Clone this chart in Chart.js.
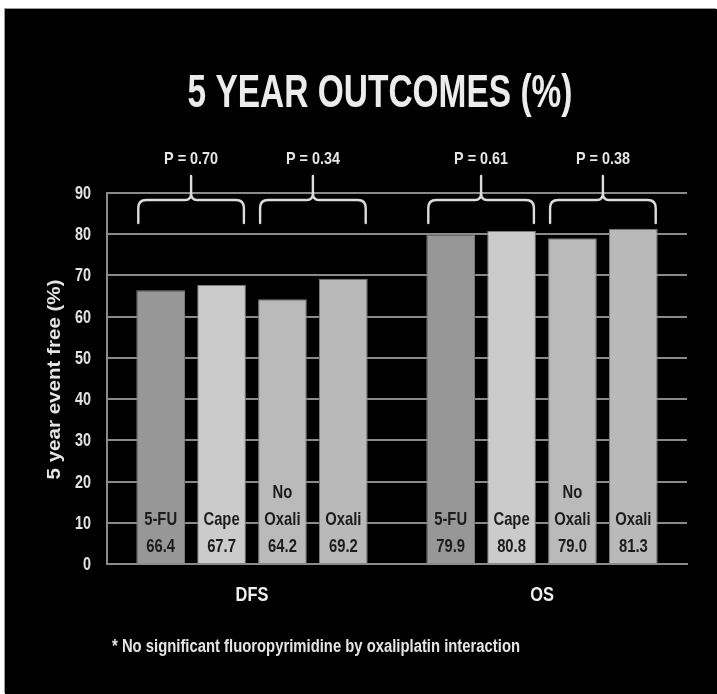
<!DOCTYPE html>
<html>
<head>
<meta charset="utf-8">
<script src="https://cdn.jsdelivr.net/npm/chart.js@4.4.1/dist/chart.umd.min.js"></script>
<style>
  html, body { margin: 0; padding: 0; background: #ffffff; }
  #frame {
    position: absolute; left: 5px; top: 9px; width: 712px; height: 685px;
    background: #000000; box-shadow: -1px -1px 0 #9a9a9a;
  }
  #chart { display: block; }
</style>
</head>
<body>
<div id="frame"><canvas id="chart" width="712" height="685"></canvas></div>
<script>
// Endpoints on the category axis
const categories = ['DFS', 'OS'];
// Treatment arms (one bar per arm in each endpoint)
const arms = ['5-FU', 'Cape', 'No Oxali', 'Oxali'];
// 5 year event-free percentages, per arm, ordered as categories
const fu5 = [66.4, 79.9];
const cape = [67.7, 80.8];
const noOxali = [64.2, 79.0];
const oxali = [69.2, 81.3];
// Comparisons: 5-FU vs Cape and No Oxali vs Oxali, per endpoint
const pValues = [['P = 0.70', 'P = 0.34'], ['P = 0.61', 'P = 0.38']];
// Value axis ticks
const yTicks = [0, 10, 20, 30, 40, 50, 60, 70, 80, 90];

const titleText = '5 YEAR OUTCOMES (%)';
const yTitleText = '5 year event free (%)';
const footnoteText = '* No significant fluoropyrimidine by oxaliplatin interaction';

const FONT = '"Liberation Sans", Arial, sans-serif';
const armColors = ['#979797', '#cbcbcb', '#bababa', '#b9b9b9'];
const gridColor = '#8a8a8a';

// Draw text condensed horizontally; width may be a target width or, when
// negative, a fixed squeeze factor given as its absolute value
function fitText(ctx, text, x, y, font, width, align) {
  ctx.save();
  ctx.font = font;
  const w = ctx.measureText(text).width;
  const s = width > 0 ? width / w : -width;
  ctx.translate(x, y);
  ctx.scale(s, 1);
  ctx.textAlign = align;
  ctx.textBaseline = 'middle';
  ctx.fillText(text, 0, 0);
  ctx.restore();
}

const annotations = {
  id: 'annotations',
  afterDatasetsDraw(chart) {
    const ctx = chart.ctx;
    const yScale = chart.scales.y;
    const xScale = chart.scales.x;
    ctx.save();

    // Value axis tick labels
    ctx.fillStyle = '#e2e2e2';
    yScale.ticks.forEach(t => {
      fitText(ctx, String(t.value), yScale.right - 16, yScale.getPixelForValue(t.value) + 1,
        'bold 18px ' + FONT, -0.8, 'right');
    });
    // Category labels
    ctx.fillStyle = '#efefef';
    categories.forEach((c, i) => {
      fitText(ctx, c, xScale.getPixelForValue(i), xScale.top + 31, 'bold 21px ' + FONT, -0.78, 'center');
    });

    // Value labels inside each bar
    ctx.fillStyle = '#1c1c1c';
    chart.data.datasets.forEach((ds, di) => {
      const meta = chart.getDatasetMeta(di);
      meta.data.forEach((bar, i) => {
        const lines = ds.label.split(' ').concat([ds.data[i].toFixed(1)]);
        const base = yScale.getPixelForValue(0);
        lines.reverse().forEach((t, k) => {
          fitText(ctx, t, bar.x, base - 17 - k * 27, 'bold 19px ' + FONT, -0.78, 'center');
        });
      });
    });

    // Braces and P values over each compared pair
    ctx.strokeStyle = '#dcdcdc';
    ctx.fillStyle = '#e6e6e6';
    ctx.lineWidth = 2.4;
    ctx.lineCap = 'round';
    const armY = yScale.top + 7;
    const footY = yScale.top + 30;
    const stemTop = yScale.top - 17;
    categories.forEach((c, ci) => {
      [[0, 1], [2, 3]].forEach((pair, pi) => {
        const a = chart.getDatasetMeta(pair[0]).data[ci];
        const b = chart.getDatasetMeta(pair[1]).data[ci];
        const L = a.x - a.width / 2 + 2;
        const R = b.x + b.width / 2 - 2;
        const C = (L + R) / 2;
        const r = 8;
        ctx.beginPath();
        ctx.moveTo(L, footY);
        ctx.lineTo(L, armY + r);
        ctx.quadraticCurveTo(L, armY, L + r, armY);
        ctx.lineTo(C - 6, armY);
        ctx.quadraticCurveTo(C, armY, C, armY - 7);
        ctx.lineTo(C, stemTop);
        ctx.moveTo(C, armY - 7);
        ctx.quadraticCurveTo(C, armY, C + 6, armY);
        ctx.lineTo(R - r, armY);
        ctx.quadraticCurveTo(R, armY, R, armY + r);
        ctx.lineTo(R, footY);
        ctx.stroke();
        fitText(ctx, pValues[ci][pi], C, stemTop - 17, 'bold 17px ' + FONT, 54, 'center');
      });
    });

    // Title, value axis title and footnote
    ctx.fillStyle = '#ececec';
    fitText(ctx, titleText, 375, 85, 'bold 46px ' + FONT, 385, 'center');
    ctx.fillStyle = '#e4e4e4';
    ctx.save();
    ctx.translate(50, (yScale.top + yScale.bottom) / 2 + 1);
    ctx.rotate(-Math.PI / 2);
    fitText(ctx, yTitleText, 0, 0, 'bold 18px ' + FONT, 200, 'center');
    ctx.restore();
    fitText(ctx, footnoteText, 107, 638, 'bold 18px ' + FONT, 408, 'left');

    ctx.restore();
  }
};

const datasets = [fu5, cape, noOxali, oxali].map((values, i) => ({
  label: arms[i],
  data: values,
  backgroundColor: armColors[i],
  borderColor: '#7a7a7a',
  borderWidth: 1,
  categoryPercentage: 0.84,
  barPercentage: 0.8
}));

new Chart(document.getElementById('chart'), {
  type: 'bar',
  data: { labels: categories, datasets },
  options: {
    responsive: false,
    animation: false,
    events: [],
    layout: { padding: { left: 62, right: 30, top: 184, bottom: 80 } },
    plugins: { legend: { display: false }, tooltip: { enabled: false } },
    scales: {
      x: {
        grid: { display: false, drawTicks: false },
        border: { display: true, color: gridColor, width: 2 },
        ticks: { display: false },
        afterFit(scale) { scale.height = 50; }
      },
      y: {
        min: 0,
        max: 90,
        afterBuildTicks(scale) { scale.ticks = yTicks.map(v => ({ value: v })); },
        grid: { color: gridColor, lineWidth: 2, drawTicks: false },
        border: { display: true, color: gridColor, width: 2 },
        ticks: { display: false },
        afterFit(scale) { scale.width = 40; }
      }
    }
  },
  plugins: [annotations]
});
</script>
</body>
</html>
